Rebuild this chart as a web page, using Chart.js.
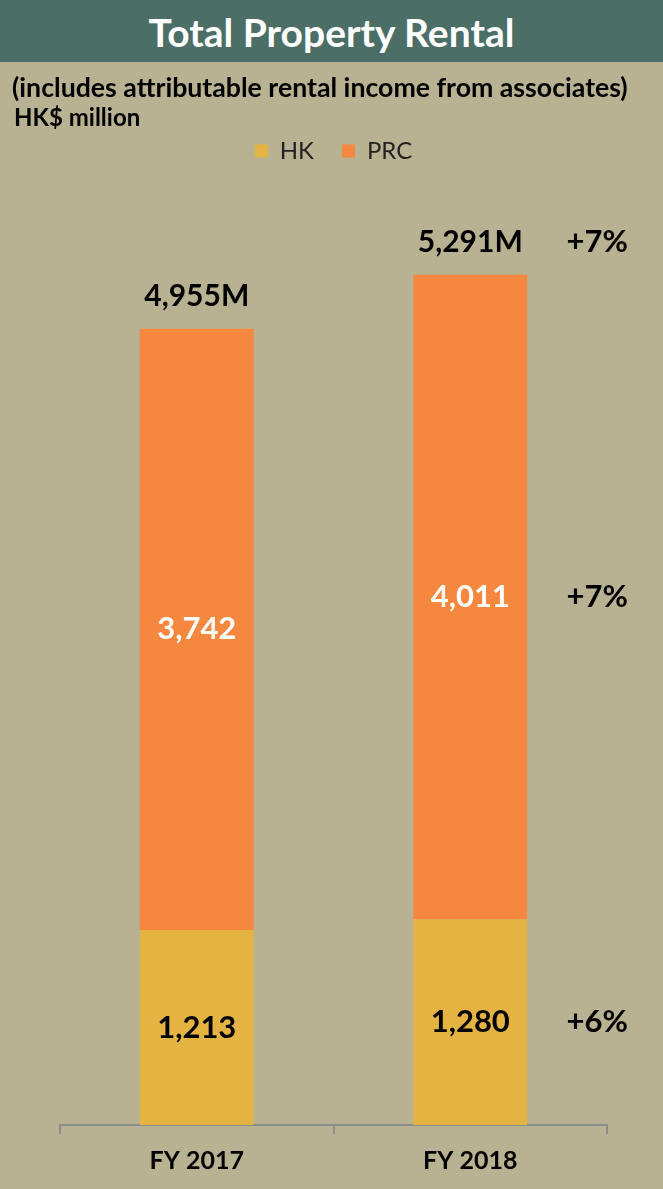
<!DOCTYPE html>
<html>
<head>
<meta charset="utf-8">
<script src="https://cdn.jsdelivr.net/npm/chart.js@4"></script>
<style>
  html, body { margin: 0; padding: 0; background: #b8b292; }
  #wrap { position: relative; width: 663px; height: 1189px; overflow: hidden; font-family: Lato, sans-serif; }
  #banner {
    position: absolute; left: 0; top: 0; width: 663px; height: 62px;
    background: #4b6e66; color: #fff; font-weight: bold; font-size: 39px;
    text-align: center; line-height: 64px;
  }
  .sub { position: absolute; left: 12px; color: #000; font-weight: bold; white-space: nowrap; line-height: 30px; }
  #sub1 { top: 72px; font-size: 26.7px; }
  #sub2 { top: 102px; left: 14px; font-size: 24px; }
  canvas { position: absolute; left: 0; top: 0; }
</style>
</head>
<body>
<div id="wrap">
  <canvas id="rental" width="663" height="1189"></canvas>
  <div id="banner">Total Property Rental</div>
  <div class="sub" id="sub1">(includes attributable rental income from associates)</div>
  <div class="sub" id="sub2">HK$ million</div>
</div>
<script>
// data
const years = ['FY 2017', 'FY 2018'];
const hkRental = [1213, 1280];
const prcRental = [3742, 4011];
const totalLabels = ['4,955M', '5,291M'];
const hkGrowth = '+6%';
const prcGrowth = '+7%';
const totalGrowth = '+7%';

const fmt = v => v.toLocaleString('en-US');

// labels on and above the bars, plus growth column on the right
const barLabels = {
  id: 'barLabels',
  afterDatasetsDraw(chart) {
    const ctx = chart.ctx;
    const hkMeta = chart.getDatasetMeta(0);
    const prcMeta = chart.getDatasetMeta(1);
    ctx.save();
    ctx.textAlign = 'center';
    ctx.textBaseline = 'middle';
    years.forEach((y, i) => {
      const hb = hkMeta.data[i];
      const pb = prcMeta.data[i];
      ctx.font = 'bold 31px Lato, sans-serif';
      ctx.fillStyle = '#000';
      ctx.fillText(fmt(hkRental[i]), hb.x, (hb.y + hb.base) / 2);
      ctx.fillStyle = '#fff';
      ctx.fillText(fmt(prcRental[i]), pb.x, (pb.y + pb.base) / 2);
      ctx.font = 'bold 30px Lato, sans-serif';
      ctx.fillStyle = '#000';
      ctx.fillText(totalLabels[i], pb.x, pb.y - 33);
    });
    // growth column next to the latest year
    const last = years.length - 1;
    const hb = hkMeta.data[last];
    const pb = prcMeta.data[last];
    const gx = pb.x + 127;
    ctx.font = 'bold 31px Lato, sans-serif';
    ctx.fillStyle = '#000';
    ctx.fillText(hkGrowth, gx, (hb.y + hb.base) / 2);
    ctx.fillText(prcGrowth, gx, (pb.y + pb.base) / 2);
    ctx.fillText(totalGrowth, gx, pb.y - 33);
    ctx.restore();
  }
};

new Chart(document.getElementById('rental'), {
  type: 'bar',
  data: {
    labels: years,
    datasets: [
      { label: 'HK', data: hkRental, backgroundColor: '#e4b341', borderWidth: 0 },
      { label: 'PRC', data: prcRental, backgroundColor: '#f5873f', borderWidth: 0 }
    ]
  },
  options: {
    responsive: false,
    animation: false,
    devicePixelRatio: 1,
    layout: { padding: { top: 111, left: 60, right: 56, bottom: 1 } },
    datasets: { bar: { categoryPercentage: 1, barPercentage: 0.416 } },
    plugins: {
      legend: {
        position: 'top',
        labels: {
          color: '#222',
          font: { family: 'Lato, sans-serif', size: 24 },
          boxWidth: 13, boxHeight: 13, padding: 28
        }
      },
      tooltip: { enabled: false }
    },
    scales: {
      x: {
        stacked: true,
        grid: { offset: true, drawOnChartArea: false, tickLength: 9, color: '#8c8c8c', lineWidth: 2 },
        border: { color: '#8c8c8c', width: 2 },
        ticks: { color: '#000', padding: 12, font: { family: 'Lato, sans-serif', size: 25, weight: 'bold' } }
      },
      y: {
        stacked: true,
        display: false,
        min: 0,
        max: 5925
      }
    }
  },
  plugins: [barLabels]
});
</script>
</body>
</html>
